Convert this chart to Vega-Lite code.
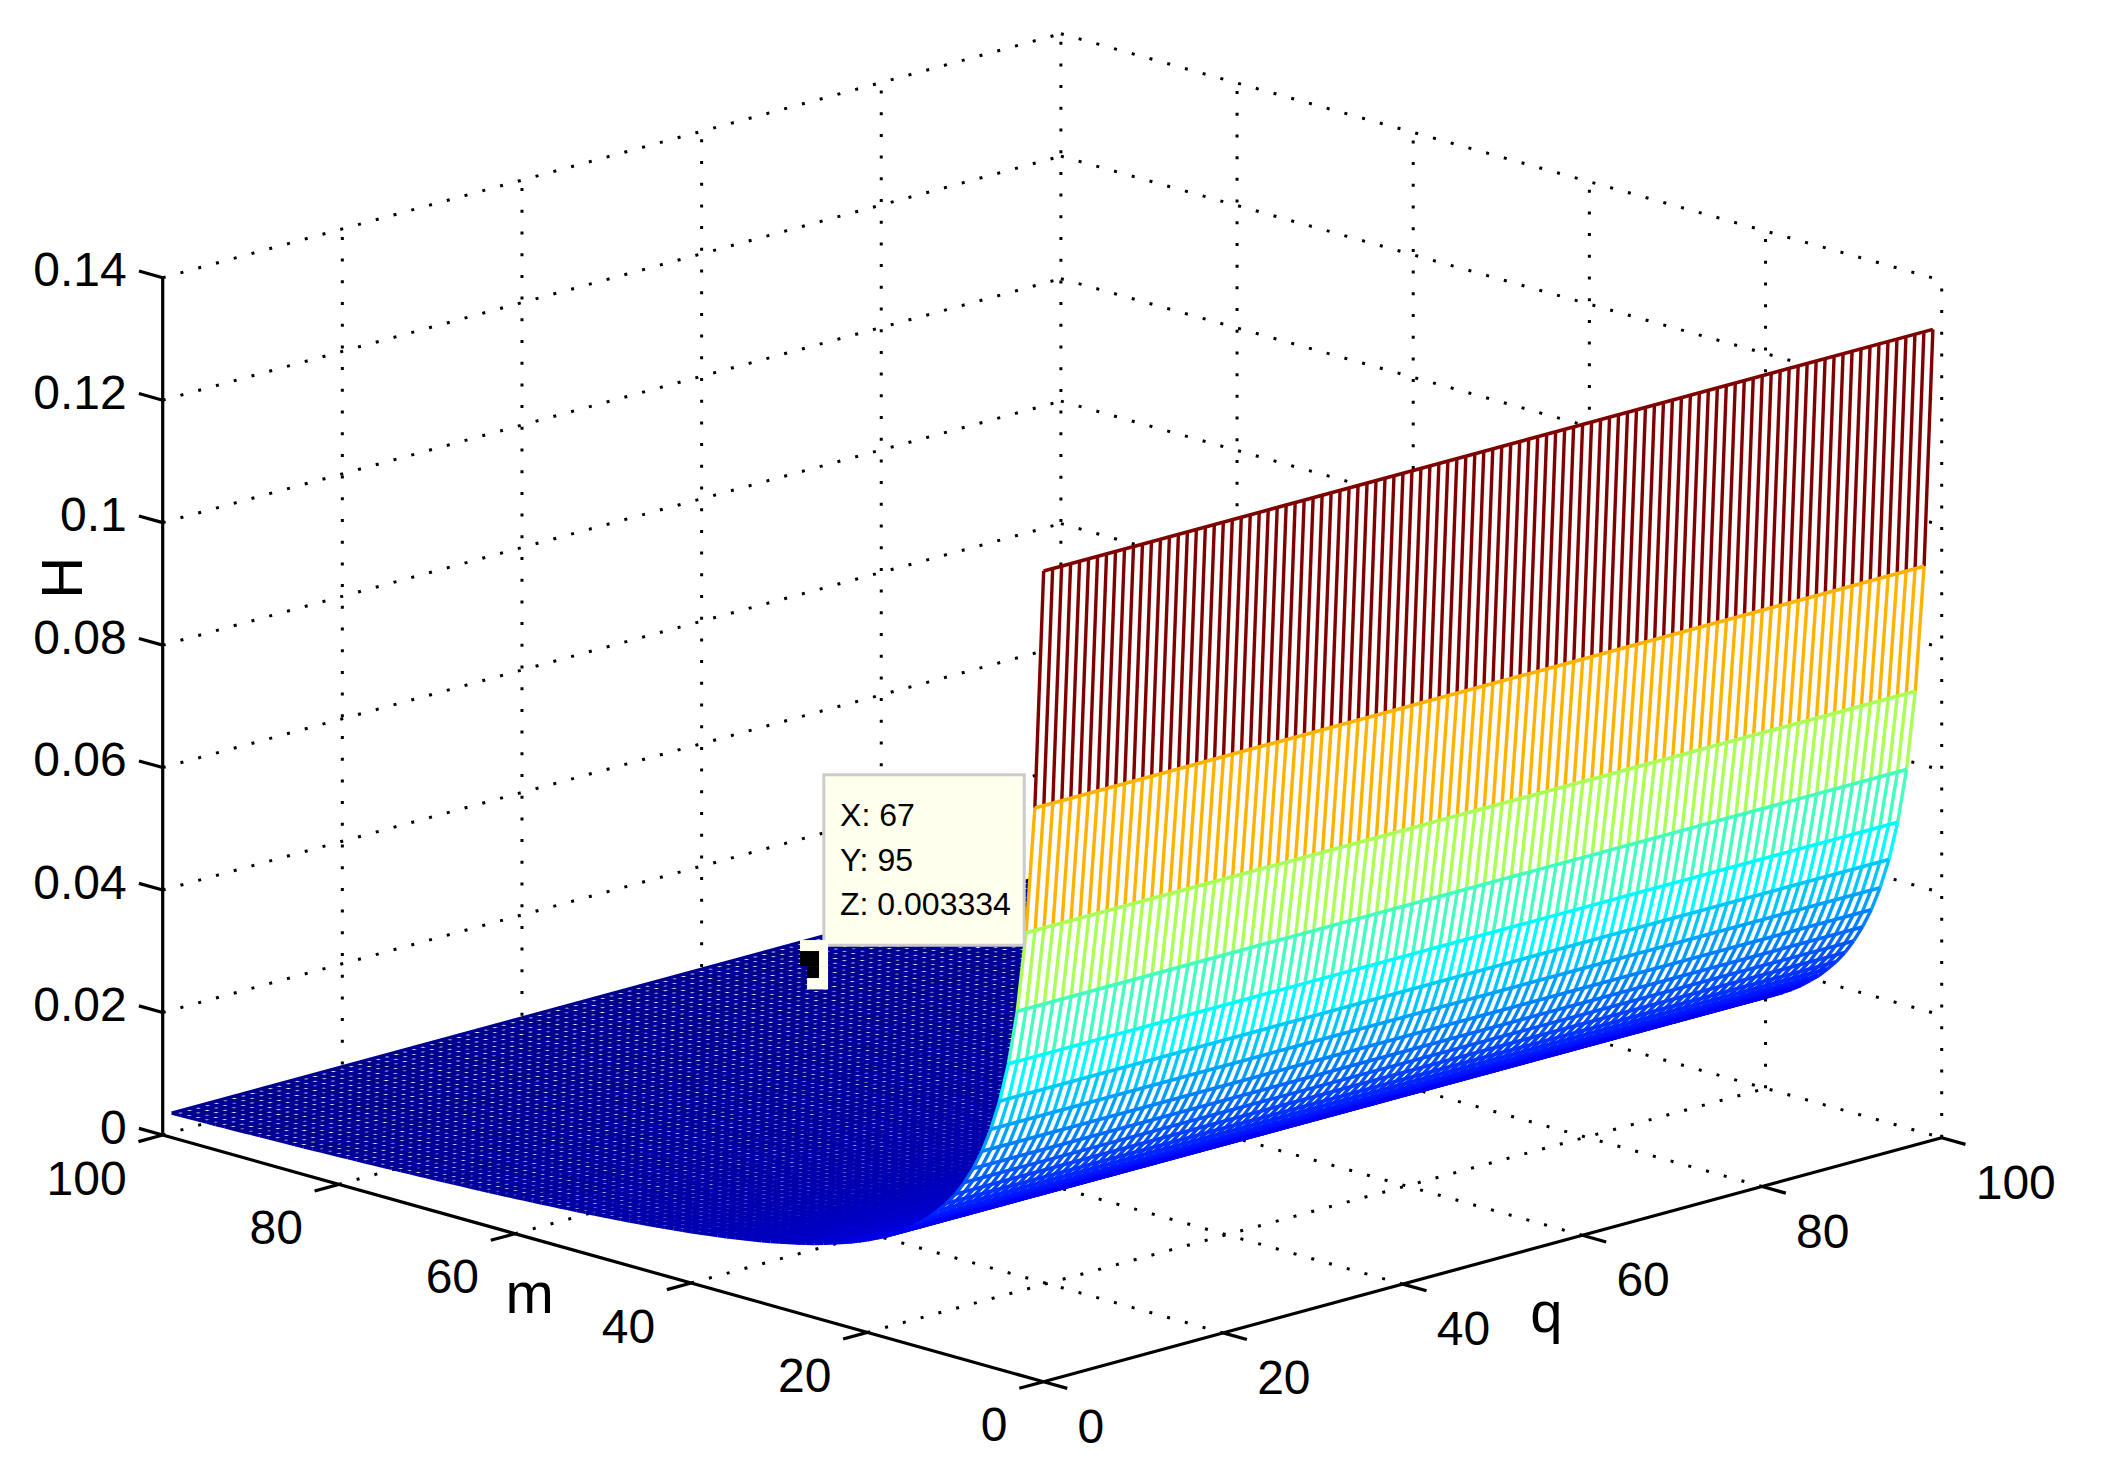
{"$schema":"https://vega.github.io/schema/vega-lite/v6.json","width":2117,"height":1475,"padding":0,"autosize":{"type":"none"},"background":"white",
"config":{"view":{"stroke":null}},
"datasets":{
"profile":[{"m":1,"H":0.1316},{"m":2,"H":0.0925},{"m":3,"H":0.0717},{"m":4,"H":0.0585},{"m":5,"H":0.0495},{"m":6,"H":0.043},{"m":7,"H":0.038},{"m":8,"H":0.034},{"m":9,"H":0.0308},{"m":10,"H":0.0281},{"m":11,"H":0.0258},{"m":12,"H":0.0239},{"m":13,"H":0.0223},{"m":14,"H":0.0208},{"m":15,"H":0.0196},{"m":16,"H":0.0184},{"m":17,"H":0.0174},{"m":18,"H":0.0165},{"m":19,"H":0.0157},{"m":20,"H":0.015},{"m":21,"H":0.0143},{"m":22,"H":0.0137},{"m":23,"H":0.01315},{"m":24,"H":0.01264},{"m":25,"H":0.01216},{"m":26,"H":0.01172},{"m":27,"H":0.0113},{"m":28,"H":0.01092},{"m":29,"H":0.01056},{"m":30,"H":0.01022},{"m":31,"H":0.00991},{"m":32,"H":0.00961},{"m":33,"H":0.00933},{"m":34,"H":0.00907},{"m":35,"H":0.00882},{"m":36,"H":0.00859},{"m":37,"H":0.00836},{"m":38,"H":0.00815},{"m":39,"H":0.00795},{"m":40,"H":0.00776},{"m":41,"H":0.00758},{"m":42,"H":0.0074},{"m":43,"H":0.00723},{"m":44,"H":0.00708},{"m":45,"H":0.00692},{"m":46,"H":0.00678},{"m":47,"H":0.00664},{"m":48,"H":0.0065},{"m":49,"H":0.00637},{"m":50,"H":0.00625},{"m":51,"H":0.00613},{"m":52,"H":0.00602},{"m":53,"H":0.00591},{"m":54,"H":0.0058},{"m":55,"H":0.0057},{"m":56,"H":0.0056},{"m":57,"H":0.0055},{"m":58,"H":0.00541},{"m":59,"H":0.00532},{"m":60,"H":0.00523},{"m":61,"H":0.00515},{"m":62,"H":0.00507},{"m":63,"H":0.00499},{"m":64,"H":0.00491},{"m":65,"H":0.00484},{"m":66,"H":0.00477},{"m":67,"H":0.0047},{"m":68,"H":0.00463},{"m":69,"H":0.00456},{"m":70,"H":0.0045},{"m":71,"H":0.00444},{"m":72,"H":0.00438},{"m":73,"H":0.00432},{"m":74,"H":0.00426},{"m":75,"H":0.00421},{"m":76,"H":0.00415},{"m":77,"H":0.0041},{"m":78,"H":0.00405},{"m":79,"H":0.004},{"m":80,"H":0.00395},{"m":81,"H":0.0039},{"m":82,"H":0.00385},{"m":83,"H":0.00381},{"m":84,"H":0.00376},{"m":85,"H":0.00372},{"m":86,"H":0.00368},{"m":87,"H":0.00364},{"m":88,"H":0.00359},{"m":89,"H":0.00356},{"m":90,"H":0.00352},{"m":91,"H":0.00348},{"m":92,"H":0.00344},{"m":93,"H":0.0034},{"m":94,"H":0.00337},{"m":95,"H":0.003334},{"m":96,"H":0.0033},{"m":97,"H":0.00327},{"m":98,"H":0.00323},{"m":99,"H":0.0032},{"m":100,"H":0.00317}],
"qGrid":[{"grid":1,"q":[1,2,3,4,5,6,7,8,9,10,11,12,13,14,15,16,17,18,19,20,21,22,23,24,25,26,27,28,29,30,31,32,33,34,35,36,37,38,39,40,41,42,43,44,45,46,47,48,49,50,51,52,53,54,55,56,57,58,59,60,61,62,63,64,65,66,67,68,69,70,71,72,73,74,75,76,77,78,79,80,81,82,83,84,85,86,87,88,89,90,91,92,93,94,95,96,97,98,99,100]}],
"qEdge":[{"grid":1,"q":[1,100]}],
"grid":[
{"m":100,"q":0,"H":0,"m2":100,"q2":100,"H2":0,"d":"s"},{"m":100,"q":0,"H":0.02,"m2":100,"q2":100,"H2":0.02,"d":"s"},{"m":100,"q":0,"H":0.04,"m2":100,"q2":100,"H2":0.04,"d":"s"},{"m":100,"q":0,"H":0.06,"m2":100,"q2":100,"H2":0.06,"d":"s"},{"m":100,"q":0,"H":0.08,"m2":100,"q2":100,"H2":0.08,"d":"s"},{"m":100,"q":0,"H":0.1,"m2":100,"q2":100,"H2":0.1,"d":"s"},{"m":100,"q":0,"H":0.12,"m2":100,"q2":100,"H2":0.12,"d":"s"},{"m":100,"q":0,"H":0.14,"m2":100,"q2":100,"H2":0.14,"d":"s"},
{"m":100,"q":100,"H":0,"m2":0,"q2":100,"H2":0,"d":"s"},{"m":100,"q":100,"H":0.02,"m2":0,"q2":100,"H2":0.02,"d":"s"},{"m":100,"q":100,"H":0.04,"m2":0,"q2":100,"H2":0.04,"d":"s"},{"m":100,"q":100,"H":0.06,"m2":0,"q2":100,"H2":0.06,"d":"s"},{"m":100,"q":100,"H":0.08,"m2":0,"q2":100,"H2":0.08,"d":"s"},{"m":100,"q":100,"H":0.1,"m2":0,"q2":100,"H2":0.1,"d":"s"},{"m":100,"q":100,"H":0.12,"m2":0,"q2":100,"H2":0.12,"d":"s"},{"m":100,"q":100,"H":0.14,"m2":0,"q2":100,"H2":0.14,"d":"s"},
{"m":100,"q":20,"H":0,"m2":100,"q2":20,"H2":0.14,"d":"v"},{"m":100,"q":40,"H":0,"m2":100,"q2":40,"H2":0.14,"d":"v"},{"m":100,"q":60,"H":0,"m2":100,"q2":60,"H2":0.14,"d":"v"},{"m":100,"q":80,"H":0,"m2":100,"q2":80,"H2":0.14,"d":"v"},{"m":100,"q":100,"H":0,"m2":100,"q2":100,"H2":0.14,"d":"v"},{"m":80,"q":100,"H":0,"m2":80,"q2":100,"H2":0.14,"d":"v"},{"m":60,"q":100,"H":0,"m2":60,"q2":100,"H2":0.14,"d":"v"},{"m":40,"q":100,"H":0,"m2":40,"q2":100,"H2":0.14,"d":"v"},{"m":20,"q":100,"H":0,"m2":20,"q2":100,"H2":0.14,"d":"v"},{"m":0,"q":100,"H":0,"m2":0,"q2":100,"H2":0.14,"d":"v"},
{"m":0,"q":20,"H":0,"m2":100,"q2":20,"H2":0,"d":"s"},{"m":0,"q":40,"H":0,"m2":100,"q2":40,"H2":0,"d":"s"},{"m":0,"q":60,"H":0,"m2":100,"q2":60,"H2":0,"d":"s"},{"m":0,"q":80,"H":0,"m2":100,"q2":80,"H2":0,"d":"s"},
{"m":20,"q":0,"H":0,"m2":20,"q2":100,"H2":0,"d":"s"},{"m":40,"q":0,"H":0,"m2":40,"q2":100,"H2":0,"d":"s"},{"m":60,"q":0,"H":0,"m2":60,"q2":100,"H2":0,"d":"s"},{"m":80,"q":0,"H":0,"m2":80,"q2":100,"H2":0,"d":"s"}],
"axes":[
{"m":0,"q":0,"H":0,"m2":100,"q2":0,"H2":0},{"m":0,"q":0,"H":0,"m2":0,"q2":100,"H2":0},{"m":100,"q":0,"H":0,"m2":100,"q2":0,"H2":0.14},
{"m":0,"q":0,"H":0,"m2":0,"q2":-2.7,"H2":0},{"m":20,"q":0,"H":0,"m2":20,"q2":-2.7,"H2":0},{"m":40,"q":0,"H":0,"m2":40,"q2":-2.7,"H2":0},{"m":60,"q":0,"H":0,"m2":60,"q2":-2.7,"H2":0},{"m":80,"q":0,"H":0,"m2":80,"q2":-2.7,"H2":0},{"m":100,"q":0,"H":0,"m2":100,"q2":-2.7,"H2":0},
{"m":0,"q":0,"H":0,"m2":-2.7,"q2":0,"H2":0},{"m":0,"q":20,"H":0,"m2":-2.7,"q2":20,"H2":0},{"m":0,"q":40,"H":0,"m2":-2.7,"q2":40,"H2":0},{"m":0,"q":60,"H":0,"m2":-2.7,"q2":60,"H2":0},{"m":0,"q":80,"H":0,"m2":-2.7,"q2":80,"H2":0},{"m":0,"q":100,"H":0,"m2":-2.7,"q2":100,"H2":0},
{"m":100,"q":0,"H":0,"m2":102.7,"q2":0,"H2":0},{"m":100,"q":0,"H":0.02,"m2":102.7,"q2":0,"H2":0.02},{"m":100,"q":0,"H":0.04,"m2":102.7,"q2":0,"H2":0.04},{"m":100,"q":0,"H":0.06,"m2":102.7,"q2":0,"H2":0.06},{"m":100,"q":0,"H":0.08,"m2":102.7,"q2":0,"H2":0.08},{"m":100,"q":0,"H":0.1,"m2":102.7,"q2":0,"H2":0.1},{"m":100,"q":0,"H":0.12,"m2":102.7,"q2":0,"H2":0.12},{"m":100,"q":0,"H":0.14,"m2":102.7,"q2":0,"H2":0.14}],
"mLabels":[{"m":0,"q":0,"H":0,"t":"0"},{"m":20,"q":0,"H":0,"t":"20"},{"m":40,"q":0,"H":0,"t":"40"},{"m":60,"q":0,"H":0,"t":"60"},{"m":80,"q":0,"H":0,"t":"80"},{"m":100,"q":0,"H":0,"t":"100"}],
"qLabels":[{"m":0,"q":0,"H":0,"t":"0"},{"m":0,"q":20,"H":0,"t":"20"},{"m":0,"q":40,"H":0,"t":"40"},{"m":0,"q":60,"H":0,"t":"60"},{"m":0,"q":80,"H":0,"t":"80"},{"m":0,"q":100,"H":0,"t":"100"}],
"hLabels":[{"m":100,"q":0,"H":0,"t":"0"},{"m":100,"q":0,"H":0.02,"t":"0.02"},{"m":100,"q":0,"H":0.04,"t":"0.04"},{"m":100,"q":0,"H":0.06,"t":"0.06"},{"m":100,"q":0,"H":0.08,"t":"0.08"},{"m":100,"q":0,"H":0.1,"t":"0.1"},{"m":100,"q":0,"H":0.12,"t":"0.12"},{"m":100,"q":0,"H":0.14,"t":"0.14"}],
"tip":[{"m":95,"q":67,"H":0.003334}]
},
"encoding":{"x":{"field":"sx","type":"quantitative","axis":null,"scale":{"domain":[0,2117],"nice":false,"zero":false}},"y":{"field":"sy","type":"quantitative","axis":null,"scale":{"domain":[0,1475],"reverse":true,"nice":false,"zero":false}}},
"layer":[
{"data":{"name":"grid"},"transform":[{"calculate":"1043.5+8.982*datum.q-8.808*datum.m","as":"sx"},{"calculate":"1381.7-2.44*datum.q-2.467*datum.m-6123.6*datum.H","as":"sy"},{"calculate":"1043.5+8.982*datum.q2-8.808*datum.m2","as":"sx2"},{"calculate":"1381.7-2.44*datum.q2-2.467*datum.m2-6123.6*datum.H2","as":"sy2"}],
"mark":{"type":"rule","strokeWidth":3,"color":"black"},"encoding":{"x2":{"field":"sx2"},"y2":{"field":"sy2"},"strokeDash":{"field":"d","type":"nominal","legend":null,"scale":{"domain":["s","v"],"range":[[3,15.4],[3,18.7]]}}}},
{"data":{"name":"profile"},"transform":[{"filter":"datum.m>=19"},{"calculate":"1","as":"grid"},{"lookup":"grid","from":{"data":{"name":"qEdge"},"key":"grid","fields":["q"]}},{"flatten":["q"]},{"calculate":"datum.q==1?datum.m:300-datum.m","as":"ord"},{"calculate":"1043.5+8.982*datum.q-8.808*datum.m","as":"sx"},{"calculate":"1381.7-2.44*datum.q-2.467*datum.m-6123.6*datum.H","as":"sy"}],
"mark":{"type":"line","fill":"white","stroke":"white","strokeWidth":1},"encoding":{"order":{"field":"ord","type":"quantitative"}}},
{"data":{"name":"profile"},"transform":[{"filter":"datum.m>=20"},{"calculate":"1043.5+8.982*1-8.808*datum.m","as":"sx"},{"calculate":"1381.7-2.44*1-2.467*datum.m-6123.6*datum.H","as":"sy"},{"calculate":"1043.5+8.982*100-8.808*datum.m","as":"sx2"},{"calculate":"1381.7-2.44*100-2.467*datum.m-6123.6*datum.H","as":"sy2"}],
"mark":{"type":"rule","strokeWidth":3.4},"encoding":{"x2":{"field":"sx2"},"y2":{"field":"sy2"},"color":{"field":"H","type":"quantitative","legend":null,"scale":{"domain":[0.00317,0.01742,0.05,0.0827,0.1153,0.1316],"range":["#000090","#0000ff","#00ffff","#ffff00","#ff0000","#800000"],"interpolate":"rgb"}}}},
{"data":{"name":"profile"},"transform":[{"window":[{"op":"lead","field":"m","as":"m2"},{"op":"lead","field":"H","as":"H2"}],"sort":[{"field":"m","order":"ascending"}]},{"filter":"datum.m2!=null&&datum.m>=19"},{"calculate":"1","as":"grid"},{"lookup":"grid","from":{"data":{"name":"qGrid"},"key":"grid","fields":["q"]}},{"flatten":["q"]},{"calculate":"1043.5+8.982*datum.q-8.808*datum.m","as":"sx"},{"calculate":"1381.7-2.44*datum.q-2.467*datum.m-6123.6*datum.H","as":"sy"},{"calculate":"1043.5+8.982*datum.q-8.808*datum.m2","as":"sx2"},{"calculate":"1381.7-2.44*datum.q-2.467*datum.m2-6123.6*datum.H2","as":"sy2"}],
"mark":{"type":"rule","strokeWidth":3.4},"encoding":{"x2":{"field":"sx2"},"y2":{"field":"sy2"},"color":{"field":"H","type":"quantitative","legend":null}}},
{"data":{"name":"profile"},"transform":[{"filter":"datum.m<=19"},{"calculate":"1","as":"grid"},{"lookup":"grid","from":{"data":{"name":"qEdge"},"key":"grid","fields":["q"]}},{"flatten":["q"]},{"calculate":"datum.q==1?datum.m:300-datum.m","as":"ord"},{"calculate":"1043.5+8.982*datum.q-8.808*datum.m","as":"sx"},{"calculate":"1381.7-2.44*datum.q-2.467*datum.m-6123.6*datum.H","as":"sy"}],
"mark":{"type":"line","fill":"white","stroke":"white","strokeWidth":1},"encoding":{"order":{"field":"ord","type":"quantitative"}}},
{"data":{"name":"profile"},"transform":[{"window":[{"op":"lead","field":"m","as":"m2"},{"op":"lead","field":"H","as":"H2"}],"sort":[{"field":"m","order":"ascending"}]},{"filter":"datum.m<19"},{"calculate":"1","as":"grid"},{"lookup":"grid","from":{"data":{"name":"qGrid"},"key":"grid","fields":["q"]}},{"flatten":["q"]},{"calculate":"1043.5+8.982*datum.q-8.808*datum.m","as":"sx"},{"calculate":"1381.7-2.44*datum.q-2.467*datum.m-6123.6*datum.H","as":"sy"},{"calculate":"1043.5+8.982*datum.q-8.808*datum.m2","as":"sx2"},{"calculate":"1381.7-2.44*datum.q-2.467*datum.m2-6123.6*datum.H2","as":"sy2"}],
"mark":{"type":"rule","strokeWidth":3.4},"encoding":{"x2":{"field":"sx2"},"y2":{"field":"sy2"},"color":{"field":"H","type":"quantitative","legend":null}}},
{"data":{"name":"profile"},"transform":[{"filter":"datum.m<=19"},{"calculate":"1043.5+8.982*1-8.808*datum.m","as":"sx"},{"calculate":"1381.7-2.44*1-2.467*datum.m-6123.6*datum.H","as":"sy"},{"calculate":"1043.5+8.982*100-8.808*datum.m","as":"sx2"},{"calculate":"1381.7-2.44*100-2.467*datum.m-6123.6*datum.H","as":"sy2"}],
"mark":{"type":"rule","strokeWidth":3.6},"encoding":{"x2":{"field":"sx2"},"y2":{"field":"sy2"},"color":{"field":"H","type":"quantitative","legend":null}}},
{"data":{"name":"axes"},"transform":[{"calculate":"1043.5+8.982*datum.q-8.808*datum.m","as":"sx"},{"calculate":"1381.7-2.44*datum.q-2.467*datum.m-6123.6*datum.H","as":"sy"},{"calculate":"1043.5+8.982*datum.q2-8.808*datum.m2","as":"sx2"},{"calculate":"1381.7-2.44*datum.q2-2.467*datum.m2-6123.6*datum.H2","as":"sy2"}],
"mark":{"type":"rule","strokeWidth":3.2,"color":"black"},"encoding":{"x2":{"field":"sx2"},"y2":{"field":"sy2"}}},
{"data":{"name":"mLabels"},"transform":[{"calculate":"1043.5+8.982*datum.q-8.808*datum.m","as":"sx"},{"calculate":"1381.7-2.44*datum.q-2.467*datum.m-6123.6*datum.H","as":"sy"}],"mark":{"type":"text","align":"right","baseline":"alphabetic","dx":-36,"dy":59.5,"font":"Liberation Sans","fontSize":48,"color":"black"},"encoding":{"text":{"field":"t"}}},
{"data":{"name":"qLabels"},"transform":[{"calculate":"1043.5+8.982*datum.q-8.808*datum.m","as":"sx"},{"calculate":"1381.7-2.44*datum.q-2.467*datum.m-6123.6*datum.H","as":"sy"}],"mark":{"type":"text","align":"left","baseline":"alphabetic","dx":34,"dy":61,"font":"Liberation Sans","fontSize":48,"color":"black"},"encoding":{"text":{"field":"t"}}},
{"data":{"name":"hLabels"},"transform":[{"calculate":"1043.5+8.982*datum.q-8.808*datum.m","as":"sx"},{"calculate":"1381.7-2.44*datum.q-2.467*datum.m-6123.6*datum.H","as":"sy"}],"mark":{"type":"text","align":"right","baseline":"alphabetic","dx":-36,"dy":8.7,"font":"Liberation Sans","fontSize":48,"color":"black"},"encoding":{"text":{"field":"t"}}},
{"data":{"values":[{"m":58,"q":0,"H":0,"t":"m"}]},"transform":[{"calculate":"1043.5+8.982*datum.q-8.808*datum.m","as":"sx"},{"calculate":"1381.7-2.44*datum.q-2.467*datum.m-6123.6*datum.H","as":"sy"}],"mark":{"type":"text","align":"center","baseline":"alphabetic","dx":-3,"dy":74,"font":"Liberation Sans","fontSize":58,"color":"black"},"encoding":{"text":{"field":"t"}}},
{"data":{"values":[{"m":0,"q":56,"H":0,"t":"q"}]},"transform":[{"calculate":"1043.5+8.982*datum.q-8.808*datum.m","as":"sx"},{"calculate":"1381.7-2.44*datum.q-2.467*datum.m-6123.6*datum.H","as":"sy"}],"mark":{"type":"text","align":"center","baseline":"alphabetic","dy":87,"font":"Liberation Sans","fontSize":58,"color":"black"},"encoding":{"text":{"field":"t"}}},
{"data":{"values":[{"m":100,"q":0,"H":0.09,"t":"H"}]},"transform":[{"calculate":"1043.5+8.982*datum.q-8.808*datum.m","as":"sx"},{"calculate":"1381.7-2.44*datum.q-2.467*datum.m-6123.6*datum.H","as":"sy"}],"mark":{"type":"text","align":"center","baseline":"alphabetic","angle":270,"dx":6,"dy":-80.7,"font":"Liberation Sans","fontSize":58,"color":"black"},"encoding":{"text":{"field":"t"}}},
{"data":{"name":"tip"},"transform":[{"calculate":"1043.5+8.982*datum.q-8.808*datum.m","as":"sx"},{"calculate":"1381.7-2.44*datum.q-2.467*datum.m-6123.6*datum.H","as":"sy"}],"mark":{"type":"rect","fill":"#ffffee","stroke":"#cccccc","strokeWidth":3,"xOffset":15.3,"x2Offset":215.7,"yOffset":-188.6,"y2Offset":-18.2},"encoding":{"x2":{"field":"sx"},"y2":{"field":"sy"}}},
{"data":{"name":"tip"},"transform":[{"calculate":"1043.5+8.982*datum.q-8.808*datum.m","as":"sx"},{"calculate":"1381.7-2.44*datum.q-2.467*datum.m-6123.6*datum.H","as":"sy"}],"mark":{"type":"rect","fill":"#ffffee","xOffset":-8.5,"x2Offset":19.5,"yOffset":-23.4,"y2Offset":2.6},"encoding":{"x2":{"field":"sx"},"y2":{"field":"sy"}}},
{"data":{"name":"tip"},"transform":[{"calculate":"1043.5+8.982*datum.q-8.808*datum.m","as":"sx"},{"calculate":"1381.7-2.44*datum.q-2.467*datum.m-6123.6*datum.H","as":"sy"}],"mark":{"type":"rect","fill":"#ffffee","xOffset":-1.5,"x2Offset":19.5,"yOffset":2.6,"y2Offset":26},"encoding":{"x2":{"field":"sx"},"y2":{"field":"sy"}}},
{"data":{"name":"tip"},"transform":[{"calculate":"1043.5+8.982*datum.q-8.808*datum.m","as":"sx"},{"calculate":"1381.7-2.44*datum.q-2.467*datum.m-6123.6*datum.H","as":"sy"}],"mark":{"type":"rect","fill":"black","xOffset":-8.5,"x2Offset":10.5,"yOffset":-12.4,"y2Offset":2.6},"encoding":{"x2":{"field":"sx"},"y2":{"field":"sy"}}},
{"data":{"name":"tip"},"transform":[{"calculate":"1043.5+8.982*datum.q-8.808*datum.m","as":"sx"},{"calculate":"1381.7-2.44*datum.q-2.467*datum.m-6123.6*datum.H","as":"sy"}],"mark":{"type":"rect","fill":"black","xOffset":-1.5,"x2Offset":10.5,"yOffset":2.6,"y2Offset":14.6},"encoding":{"x2":{"field":"sx"},"y2":{"field":"sy"}}},
{"data":{"name":"tip"},"transform":[{"calculate":"1043.5+8.982*datum.q-8.808*datum.m","as":"sx"},{"calculate":"1381.7-2.44*datum.q-2.467*datum.m-6123.6*datum.H","as":"sy"}],"mark":{"type":"text","align":"left","baseline":"alphabetic","dx":31.5,"dy":-137,"font":"Liberation Sans","fontSize":32,"color":"black"},"encoding":{"text":{"value":"X: 67"}}},
{"data":{"name":"tip"},"transform":[{"calculate":"1043.5+8.982*datum.q-8.808*datum.m","as":"sx"},{"calculate":"1381.7-2.44*datum.q-2.467*datum.m-6123.6*datum.H","as":"sy"}],"mark":{"type":"text","align":"left","baseline":"alphabetic","dx":31.5,"dy":-92,"font":"Liberation Sans","fontSize":32,"color":"black"},"encoding":{"text":{"value":"Y: 95"}}},
{"data":{"name":"tip"},"transform":[{"calculate":"1043.5+8.982*datum.q-8.808*datum.m","as":"sx"},{"calculate":"1381.7-2.44*datum.q-2.467*datum.m-6123.6*datum.H","as":"sy"}],"mark":{"type":"text","align":"left","baseline":"alphabetic","dx":31.5,"dy":-48,"font":"Liberation Sans","fontSize":32,"color":"black"},"encoding":{"text":{"value":"Z: 0.003334"}}}
]}
